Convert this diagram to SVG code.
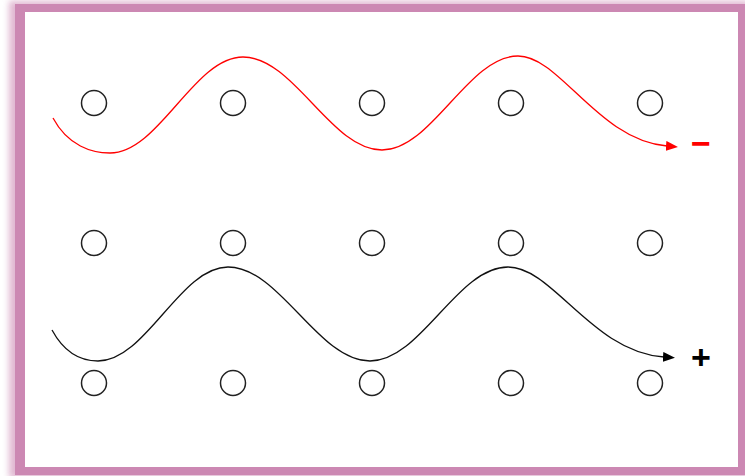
<svg xmlns="http://www.w3.org/2000/svg" width="745" height="476" viewBox="0 0 745 476">
  <style>
    .node circle { fill: none; stroke: #222; stroke-width: 1.5; }
    .wave { fill: none; stroke-width: 1.3; }
    .red { stroke: #ff0000; }
    .black { stroke: #111; }
    .lbl { font-family: "Liberation Sans", Arial, sans-serif; font-weight: bold; }
  </style>
  <defs>
    <filter id="blur" x="-5%" y="-5%" width="110%" height="110%">
      <feGaussianBlur stdDeviation="3"/>
    </filter>
    <marker id="ahRed" markerUnits="userSpaceOnUse" markerWidth="12" markerHeight="10" refX="1" refY="5" orient="auto">
      <path d="M0,0 L12,5 L0,10 z" fill="#ff0000"/>
    </marker>
    <marker id="ahBlack" markerUnits="userSpaceOnUse" markerWidth="12" markerHeight="10" refX="1" refY="5" orient="auto">
      <path d="M0,0 L12,5 L0,10 z" fill="#000"/>
    </marker>
  </defs>

  <rect width="745" height="476" fill="#ffffff"/>
  <!-- frame -->
  <g id="frame">
    <rect x="9" y="1" width="740" height="477" fill="#cc88b3" opacity="0.6" filter="url(#blur)"/>
    <rect x="15" y="4" width="735" height="471" fill="#cc88b3"/>
    <rect x="25" y="12" width="713" height="455" fill="#ffffff"/>
  </g>

  <!-- nodes -->
  <g id="n-r1c1" class="node"><circle cx="94" cy="103" r="12.5"/></g>
  <g id="n-r1c2" class="node"><circle cx="233" cy="103" r="12.5"/></g>
  <g id="n-r1c3" class="node"><circle cx="372" cy="103" r="12.5"/></g>
  <g id="n-r1c4" class="node"><circle cx="511" cy="103" r="12.5"/></g>
  <g id="n-r1c5" class="node"><circle cx="650" cy="103" r="12.5"/></g>

  <g id="n-r2c1" class="node"><circle cx="94" cy="243" r="12.5"/></g>
  <g id="n-r2c2" class="node"><circle cx="233" cy="243" r="12.5"/></g>
  <g id="n-r2c3" class="node"><circle cx="372" cy="243" r="12.5"/></g>
  <g id="n-r2c4" class="node"><circle cx="511" cy="243" r="12.5"/></g>
  <g id="n-r2c5" class="node"><circle cx="650" cy="243" r="12.5"/></g>

  <g id="n-r3c1" class="node"><circle cx="94" cy="383" r="12.5"/></g>
  <g id="n-r3c2" class="node"><circle cx="233" cy="383" r="12.5"/></g>
  <g id="n-r3c3" class="node"><circle cx="372" cy="383" r="12.5"/></g>
  <g id="n-r3c4" class="node"><circle cx="511" cy="383" r="12.5"/></g>
  <g id="n-r3c5" class="node"><circle cx="650" cy="383" r="12.5"/></g>

  <!-- connectors -->
  <g id="connectors">
    <path class="wave red" marker-end="url(#ahRed)"
      d="M53,118 C68,146 92,153 110,153 C159,153 194,57 243,57 C294,57 331,150 382,150 C432,150 468,56 518,56 C560,56 598,140 667,146"/>
    <path class="wave black" marker-end="url(#ahBlack)"
      d="M52,330 C65,354 82,361 98,361 C146,361 180,267 228,267 C280,267 318,361 370,361 C421,361 457,267 508,267 C553,267 592,352 664,357"/>
  </g>

  <g id="labels">
    <text class="lbl" x="691" y="155" font-size="34" fill="#ff0000">−</text>
    <text class="lbl" x="691" y="369" font-size="34" fill="#000">+</text>
  </g>
</svg>
